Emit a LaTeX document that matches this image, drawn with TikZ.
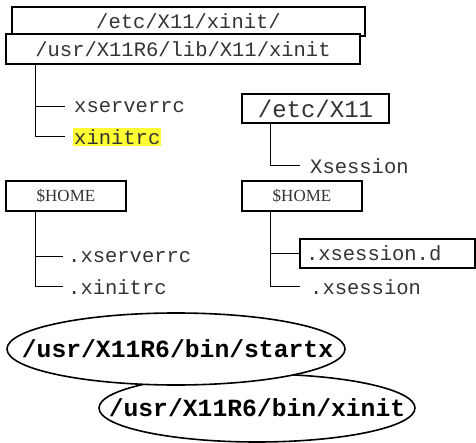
\documentclass[tikz,border=0pt]{standalone}
\usepackage{fontspec}
\setmainfont{Liberation Serif}
\setmonofont{Liberation Mono}
\definecolor{hl}{HTML}{FFFF33}
\definecolor{txt}{HTML}{333333}
\begin{document}
\begin{tikzpicture}[x=1pt,y=-1pt,
  dirbox/.style={draw=black,line width=1.6pt,fill=white,inner sep=0pt,text=txt,
    font=\ttfamily\fontsize{20.5}{22}\selectfont},
  homebox/.style={draw=black,line width=1.6pt,fill=white,inner sep=0pt,text=txt,
    minimum width=120pt,minimum height=30pt,font=\fontsize{17}{19}\selectfont},
  file/.style={anchor=west,inner sep=1pt,text=txt,
    font=\ttfamily\fontsize{20.5}{22}\selectfont},
  tree/.style={line width=1pt,black},
  progline/.style={draw=black,line width=1.6pt,fill=white},
  prog/.style={inner sep=0pt,text=black,
    font=\ttfamily\bfseries\fontsize{24.7}{26}\selectfont}]
\useasboundingbox (0,0) rectangle (476,443);
% top boxes
\node[dirbox,minimum width=353pt,minimum height=29pt] (b1) at (188.5,21.5) {/etc/X11/xinit/};
\node[dirbox,minimum width=354pt,minimum height=30pt] (b2) at (183,49) {/usr/X11R6/lib/X11/xinit};
\node[file] (xsrv) at (73,107) {xserverrc};
\node[file,fill=hl] (xini) at (73,137) {xinitrc};
\draw[tree] ([xshift=30pt]b2.south west) |- ([xshift=-8pt]xini.west);
\draw[tree] ([xshift=30pt]b2.south west |- xsrv.west) -- ([xshift=-8pt]xsrv.west);
% /etc/X11
\node[dirbox,minimum width=147pt,minimum height=29pt,
  font=\ttfamily\fontsize{24}{26}\selectfont] (ex) at (315.5,108.5) {/etc/X11};
\node[file] (xs) at (309,166) {Xsession};
\draw[tree] ([xshift=29pt]ex.south west) |- ([xshift=-9pt]xs.west);
% left $HOME
\node[homebox] (h1) at (66,196) {\$HOME};
\node[file] (hxsrv) at (67,257) {.xserverrc};
\node[file] (hxini) at (67,287) {.xinitrc};
\draw[tree] ([xshift=30pt]h1.south west) |- ([xshift=-4pt]hxini.west);
\draw[tree] ([xshift=30pt]h1.south west |- hxsrv.west) -- ([xshift=-4pt]hxsrv.west);
% right $HOME
\node[homebox] (h2) at (302,196) {\$HOME};
\node[dirbox,minimum width=175pt,minimum height=29pt,text width=163pt,align=left] (xsd) at (387.5,253.5) {.xsession.d};
\node[file] (xss) at (309,287) {.xsession};
\draw[tree] ([xshift=29pt]h2.south west) |- ([xshift=-9pt]xss.west);
\draw[tree] ([xshift=29pt]h2.south west |- xsd.west) -- (xsd.west);
% programs
\coordinate (cxi) at (257,408);
\coordinate (csx) at (176,349);
\draw[progline] (cxi) ellipse [x radius=158, y radius=34];
\node[prog] (xinit) at (cxi) {/usr/X11R6/bin/xinit};
\draw[progline] (csx) ellipse [x radius=169, y radius=36];
\node[prog] (startx) at ([xshift=1.5pt]csx) {/usr/X11R6/bin/startx};
\end{tikzpicture}
\end{document}
